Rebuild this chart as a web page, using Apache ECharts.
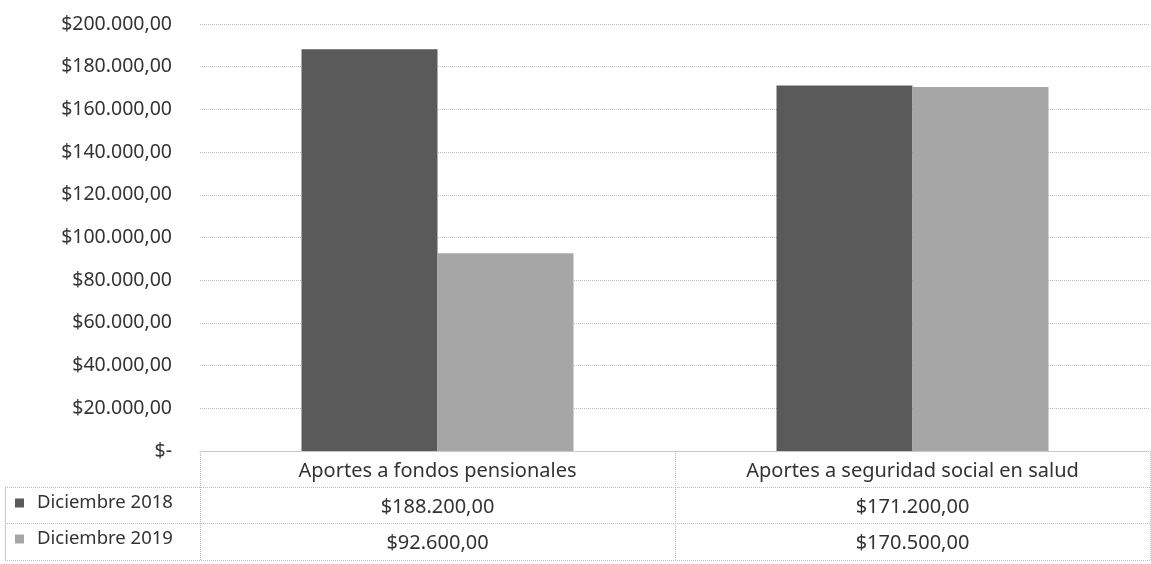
<!DOCTYPE html>
<html>
<head>
<meta charset="utf-8">
<script src="https://cdn.jsdelivr.net/npm/echarts@6/dist/echarts.min.js"></script>
<style>html,body{margin:0;padding:0;background:#fff}#c{width:1151px;height:564px}</style>
</head>
<body>
<div id="c"></div>
<script>
const categories = ['Aportes a fondos pensionales', 'Aportes a seguridad social en salud'];
const seriesNames = ['Diciembre 2018', 'Diciembre 2019'];
const dic2018 = [188200, 171200];
const dic2019 = [92600, 170500];
const yTicks = { min: 0, max: 200000, interval: 20000 };

function fmt(v) {
  if (v === 0) return '$-';
  const parts = v.toFixed(2).split('.');
  const intPart = parts[0].replace(/\B(?=(\d{3})+(?!\d))/g, '.');
  return '$' + intPart + ',' + parts[1];
}

const FONT = '"Noto Sans", sans-serif';
const gridColor = '#bdbdbd';
const chart = echarts.init(document.getElementById('c'));
chart.setOption({
  animation: false,
  backgroundColor: '#fff',
  textStyle: { fontFamily: FONT },
  grid: [
    { left: 200, right: 1, top: 24, bottom: 113 },
    { left: 5, right: 1, top: 487, bottom: 4 }
  ],
  legend: {
    orient: 'vertical',
    left: 10,
    top: 487,
    itemWidth: 9,
    itemHeight: 9,
    itemGap: 14,
    icon: 'rect',
    textStyle: { fontSize: 18.5, color: '#333', fontFamily: FONT, lineHeight: 22, padding: [0, 0, 0, 8] },
    data: seriesNames
  },
  xAxis: [
    {
      type: 'category',
      gridIndex: 0,
      data: categories,
      boundaryGap: true,
      axisLine: { show: true, lineStyle: { color: gridColor, type: 'dotted', width: 1 } },
      axisTick: { show: true, length: 109, interval: 0, lineStyle: { color: gridColor, type: 'dotted', width: 1 } },
      axisLabel: {
        interval: 0,
        margin: 2,
        fontSize: 20,
        lineHeight: 36,
        color: '#333',
        fontFamily: FONT,
        formatter: function (val, idx) {
          return val + '\n' + fmt(dic2018[idx]) + '\n' + fmt(dic2019[idx]);
        }
      }
    },
    { type: 'value', gridIndex: 1, show: false, min: 0, max: 1 }
  ],
  yAxis: [
    {
      type: 'value',
      gridIndex: 0,
      min: yTicks.min,
      max: yTicks.max,
      interval: yTicks.interval,
      axisLine: { show: false },
      axisTick: { show: false },
      splitLine: { show: true, lineStyle: { color: gridColor, type: 'dotted', width: 1 } },
      axisLabel: { fontSize: 19.5, color: '#333', margin: 28, fontFamily: FONT, formatter: fmt }
    },
    {
      type: 'value',
      gridIndex: 1,
      min: 0,
      max: 2,
      interval: 1,
      inverse: true,
      axisLabel: { show: false },
      axisTick: { show: false },
      axisLine: { show: true, lineStyle: { color: gridColor, type: 'dotted', width: 1 } },
      splitLine: { show: true, lineStyle: { color: gridColor, type: 'dotted', width: 1 } }
    }
  ],
  series: [
    {
      name: seriesNames[0],
      type: 'bar',
      xAxisIndex: 0,
      yAxisIndex: 0,
      data: dic2018,
      barWidth: 136,
      barGap: '0%',
      itemStyle: { color: '#5a5a5a' }
    },
    {
      name: seriesNames[1],
      type: 'bar',
      xAxisIndex: 0,
      yAxisIndex: 0,
      data: dic2019,
      barWidth: 136,
      barGap: '0%',
      itemStyle: { color: '#a6a6a6' }
    }
  ]
});
</script>
</body>
</html>
